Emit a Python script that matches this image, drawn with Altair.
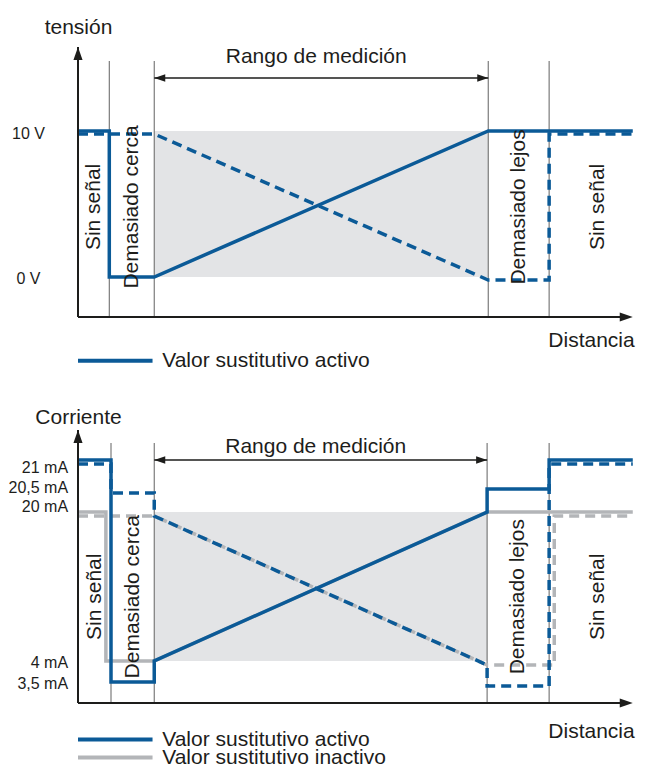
import altair as alt
import pandas as pd

# ---------------- data ----------------
# distance axis in arbitrary units: 0 = origin, X_END = end of the drawn axis
top_bounds = [5.5, 13.4, 72.1, 82.8]
bot_bounds = [5.8, 13.4, 71.9, 82.8]
zone_labels = ["Sin señal", "Demasiado cerca", "Demasiado lejos", "Sin señal"]
range_label = "Rango de medición"
X_END = 97.5

# voltage output (V)
v_asc_x = [0, 5.5, 5.5, 13.4, 72.1, X_END]
v_asc_y = [10, 10, 0, 0, 10, 10]
v_desc_x = [0, 13.4, 72.1, 82.8, 82.8, X_END]
v_desc_y = [10, 10, 0, 0, 10, 10]
v_band_x = [13.4, 72.1]
v_band_y = [0, 10]

# current output (mA)
i_act_asc_x = [0, 5.8, 5.8, 13.4, 13.4, 71.9, 71.9, 82.8, 82.8, X_END]
i_act_asc_y = [21, 21, 3.5, 3.5, 4, 20, 20.5, 20.5, 21, 21]
i_act_desc_x = [0, 5.8, 5.8, 13.4, 13.4, 71.9, 71.9, 82.8, 82.8, X_END]
i_act_desc_y = [21, 21, 20.5, 20.5, 20, 4, 3.5, 3.5, 21, 21]
i_ina_asc_x = [0, 4.9, 4.9, 13.4, 71.9, X_END]
i_ina_asc_y = [20, 20, 4, 4, 20, 20]
i_ina_desc_x = [0, 13.4, 71.9, 83.7, 83.7, X_END]
i_ina_desc_y = [20, 20, 4, 4, 20, 20]
i_band_x = [13.4, 71.9]
i_band_y = [4, 20]

v_ticks = [10, 0]
v_tick_labels = ["10 V", "0 V"]
i_ticks = [21, 20.5, 20, 4, 3.5]
i_tick_labels = ["21 mA", "20,5 mA", "20 mA", "4 mA", "3,5 mA"]
i_label_shift = [7, -2, -6, 1, 1]

legend_top = ["Valor sustitutivo activo"]
legend_bot = ["Valor sustitutivo activo", "Valor sustitutivo inactivo"]

# ---------------- style ----------------
BLUE = "#0b5a97"
GRAY = "#b3b5b8"
BAND = "#e3e4e6"
ZONE = "#6f6f6f"
INK = "#1d1d1b"
FONT = "Liberation Sans"
W = 555
X_MAX = W / 5.69
LW = 3.5
DASH = [10, 6]
ARROW_UP = "M0,0L-0.7,2L0.7,2Z"
ARROW_RIGHT = "M0,0L-2,-0.7L-2,0.7Z"
ARROW_LEFT = "M0,0L2,-0.7L2,0.7Z"
X_TIP = X_END

ONE = pd.DataFrame({"k": [0]})


def frame(xs, ys):
    return pd.DataFrame({"x": xs, "y": ys, "o": list(range(len(xs)))})


def label_expr(values, labels):
    expr = "''"
    for v, l in reversed(list(zip(values, labels))):
        expr = f"datum.value == {v} ? '{l}' : ({expr})"
    return expr


def panel(cfg):
    xsc = alt.Scale(domain=[0, X_MAX], nice=False, zero=False)
    ysc = cfg["yscale"]
    ax_x = alt.Axis(title="Distancia", labels=False, ticks=False, domain=False, grid=False,
                    titleX=513, titleY=cfg["dist_title_y"], titleAngle=0, titleAlign="center",
                    titleBaseline="alphabetic", titleFontSize=21, titleFontWeight="normal",
                    titleColor=INK, titleFont=FONT)
    ax_y = cfg["yaxis"]

    def X(f=None, d=None):
        if d is not None:
            return alt.XDatum(d, type="quantitative", scale=xsc, axis=ax_x)
        return alt.X(f, type="quantitative", scale=xsc, axis=ax_x)

    def Y(f=None, d=None):
        if d is not None:
            return alt.YDatum(d, type="quantitative", scale=ysc, axis=ax_y)
        return alt.Y(f, type="quantitative", scale=ysc, axis=ax_y)

    b = cfg["bounds"]
    layers = []
    # measuring range band
    layers.append(alt.Chart(ONE).mark_rect(color=BAND).encode(
        x=X(d=cfg["band_x"][0]), x2=alt.datum(cfg["band_x"][1]),
        y=Y(d=cfg["band_y"][0]), y2=alt.datum(cfg["band_y"][1])))
    # zone boundaries
    layers.append(alt.Chart(pd.DataFrame({"x": b})).mark_rule(color=ZONE, strokeWidth=1.1).encode(
        x=X("x"), y=Y(d=cfg["zone_top"]), y2=alt.datum(cfg["ymin"])))
    # characteristic lines
    for xs, ys, color, dashed in cfg["lines"]:
        kw = dict(color=color, strokeWidth=LW, strokeJoin="miter", strokeCap="butt")
        if dashed:
            kw.update(strokeDash=DASH, yOffset=cfg["dash_offset"])
        layers.append(alt.Chart(frame(xs, ys)).mark_line(**kw).encode(
            x=X("x"), y=Y("y"), order=alt.Order("o:Q")))
    # axis lines with arrows
    layers.append(alt.Chart(ONE).mark_rule(color=INK, strokeWidth=2).encode(
        x=X(d=0), y=Y(d=cfg["ymin"]), y2=alt.datum(cfg["arrow_tip"])))
    layers.append(alt.Chart(ONE).mark_rule(color=INK, strokeWidth=2).encode(
        x=X(d=0), x2=alt.datum(X_TIP - 1), y=Y(d=cfg["ymin"])))
    layers.append(alt.Chart(ONE).mark_point(shape=ARROW_UP, filled=True, size=169, color=INK,
                                            opacity=1, strokeWidth=0).encode(
        x=X(d=0), y=Y(d=cfg["arrow_tip"])))
    layers.append(alt.Chart(ONE).mark_point(shape=ARROW_RIGHT, filled=True, size=169, color=INK,
                                            opacity=1, strokeWidth=0).encode(
        x=X(d=X_TIP), y=Y(d=cfg["ymin"])))
    # measuring range arrow
    layers.append(alt.Chart(ONE).mark_rule(color=INK, strokeWidth=1.6).encode(
        x=X(d=b[1]), x2=alt.datum(b[2]), y=Y(d=cfg["range_y"])))
    layers.append(alt.Chart(ONE).mark_point(shape=ARROW_LEFT, filled=True, size=121, color=INK,
                                            opacity=1, strokeWidth=0).encode(
        x=X(d=b[1]), y=Y(d=cfg["range_y"])))
    layers.append(alt.Chart(ONE).mark_point(shape=ARROW_RIGHT, filled=True, size=121, color=INK,
                                            opacity=1, strokeWidth=0).encode(
        x=X(d=b[2]), y=Y(d=cfg["range_y"])))
    layers.append(alt.Chart(ONE).mark_text(text=range_label, fontSize=21, font=FONT, color=INK,
                                           align="center", baseline="middle", dx=-5).encode(
        x=X(d=(b[1] + b[2]) / 2), y=Y(d=cfg["range_text_y"])))
    # zone labels (vertical)
    edges = [0] + b + [100]
    centers = [(edges[0] + edges[1]) / 2, (edges[1] + edges[2]) / 2,
               (edges[3] + edges[4]) / 2, (edges[4] + edges[5]) / 2]
    zdf = pd.DataFrame({"x": centers, "t": zone_labels})
    layers.append(alt.Chart(zdf).mark_text(angle=270, fontSize=21, font=FONT, color=INK,
                                           align="center", baseline="middle").encode(
        x=X("x"), y=Y(d=cfg["label_y"]), text="t:N"))
    return alt.layer(*layers).properties(width=W, height=cfg["height"])


def legend(names, positions, height):
    xsc = alt.Scale(domain=[0, X_MAX], nice=False, zero=False)
    ysc = alt.Scale(type="point", domain=names, range=positions, padding=0)
    csc = alt.Scale(domain=legend_bot, range=[BLUE, GRAY])
    df = pd.DataFrame({"name": names})
    lines = alt.Chart(df).mark_rule(strokeWidth=4).encode(
        x=alt.XDatum(0, type="quantitative", scale=xsc, axis=None),
        x2=alt.datum(13.1),
        y=alt.Y("name:N", scale=ysc, axis=None),
        color=alt.Color("name:N", scale=csc, legend=None))
    texts = alt.Chart(df).mark_text(align="left", baseline="middle", fontSize=21, font=FONT,
                                    color=INK).encode(
        x=alt.XDatum(14.8, type="quantitative", scale=xsc, axis=None),
        y=alt.Y("name:N", scale=ysc, axis=None),
        text="name:N")
    return alt.layer(lines, texts).properties(width=W, height=height)


top_yaxis = alt.Axis(values=v_ticks, labelExpr=label_expr(v_ticks, v_tick_labels),
                     title="tensión", titleAngle=0, titleAlign="center", titleBaseline="alphabetic",
                     titleX=0, titleY=25, titleFontSize=21, titleFontWeight="normal",
                     titleColor=INK, titleFont=FONT,
                     labelFontSize=16, labelFont=FONT, labelColor=INK, labelAlign="center",
                     labelPadding=50, labelOffset=2, ticks=False, tickSize=0, domain=False,
                     grid=False, labelOverlap=False)

shift_expr = "0"
for v, s in reversed(list(zip(i_ticks, i_label_shift))):
    shift_expr = f"datum.value == {v} ? {s} : ({shift_expr})"

bot_yaxis = alt.Axis(values=i_ticks, labelExpr=label_expr(i_ticks, i_tick_labels),
                     title="Corriente", titleAngle=0, titleAlign="center", titleBaseline="alphabetic",
                     titleX=0, titleY=-5, titleFontSize=21, titleFontWeight="normal",
                     titleColor=INK, titleFont=FONT,
                     labelFontSize=16, labelFont=FONT, labelColor=INK, labelAlign="right",
                     labelPadding=10.4, labelOffset={"expr": shift_expr}, ticks=False, tickSize=0,
                     domain=False, grid=False, labelOverlap=False)

top_cfg = dict(
    yscale=alt.Scale(domain=[-2.74, 18.425], nice=False, zero=False),
    yaxis=top_yaxis, ymin=-2.74, zone_top=14.79, arrow_tip=15.75,
    range_y=13.63, range_text_y=15.07, label_y=4.8, height=309,
    bounds=top_bounds, band_x=v_band_x, band_y=v_band_y, dash_offset=3, dist_title_y=29,
    lines=[(v_desc_x, v_desc_y, BLUE, True), (v_asc_x, v_asc_y, BLUE, False)],
)

bot_cfg = dict(
    yscale=alt.Scale(domain=[2.5, 3.5, 4, 20, 20.5, 21, 23],
                     range=[275, 254, 233, 84, 61, 32, 0], nice=False, zero=False),
    yaxis=bot_yaxis, ymin=2.5, zone_top=22.06, arrow_tip=22.87,
    range_y=21, range_text_y=21.8, label_y=10.9, height=275,
    bounds=bot_bounds, band_x=i_band_x, band_y=i_band_y, dash_offset=4, dist_title_y=34,
    lines=[(i_ina_desc_x, i_ina_desc_y, GRAY, True), (i_ina_asc_x, i_ina_asc_y, GRAY, False),
           (i_act_desc_x, i_act_desc_y, BLUE, True), (i_act_asc_x, i_act_asc_y, BLUE, False)],
)

chart = alt.vconcat(
    panel(top_cfg),
    legend(legend_top, [43.7, 43.7], 111),
    panel(bot_cfg),
    legend(legend_bot, [36.5, 54.5], 65),
    spacing=0, bounds="flush",
).properties(
    padding={"left": 0, "top": 0, "right": 0, "bottom": 0}
).configure(font=FONT).configure_view(strokeWidth=0)

chart.save("out.html", embed_options={"renderer": "svg", "actions": False})
